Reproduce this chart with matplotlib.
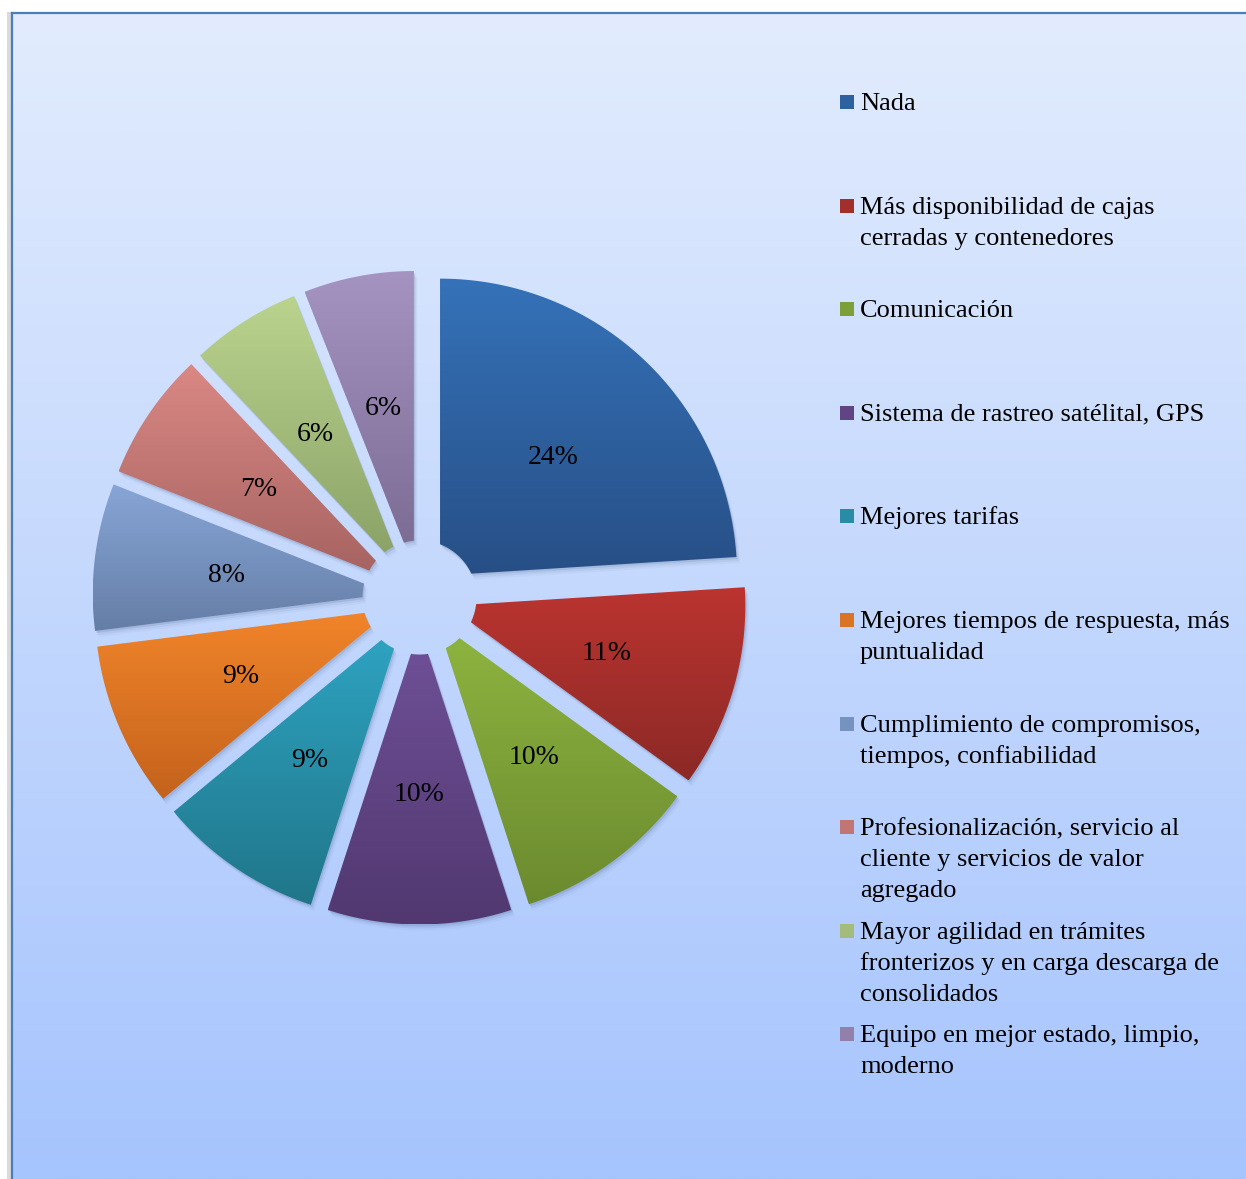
import numpy as np
import matplotlib.pyplot as plt
from matplotlib.patches import Polygon, Rectangle
from matplotlib.colors import to_rgb

categorias = [
    "Nada",
    "Más disponibilidad de cajas\ncerradas y contenedores",
    "Comunicación",
    "Sistema de rastreo satélital, GPS",
    "Mejores tarifas",
    "Mejores tiempos de respuesta, más\npuntualidad",
    "Cumplimiento de compromisos,\ntiempos, confiabilidad",
    "Profesionalización, servicio al\ncliente y servicios de valor\nagregado",
    "Mayor agilidad en trámites\nfronterizos y en carga descarga de\nconsolidados",
    "Equipo en mejor estado, limpio,\nmoderno",
]
porcentajes = [24, 11, 10, 10, 9, 9, 8, 7, 6, 6]

# degradado de cada porción (arriba, abajo)
color_sup = ['#3572B9', '#BB3430', '#8DB33F', '#6E4F96', '#2EA2C0',
             '#F0842A', '#87A5D6', '#DA8884', '#BAD48E', '#A594C1']
color_inf = ['#274F86', '#8C2926', '#6B8A2F', '#513870', '#207689',
             '#C4621C', '#657EA6', '#A76462', '#8CA368', '#7D6C94']

W, H = 1246, 1179
fig = plt.figure(figsize=(W / 100, H / 100), dpi=100)
ax = fig.add_axes([0, 0, 1, 1])


def gradiente(c1, c2, n=256):
    t = np.linspace(0, 1, n)[:, None, None]
    a = np.array(to_rgb(c1))[None, None, :]
    b = np.array(to_rgb(c2))[None, None, :]
    return a + (b - a) * t


# fondo del area del grafico
ax.add_patch(Rectangle((7, 12), 4, H, color='#DADADA', lw=0, zorder=0))
ax.imshow(gradiente('#E2ECFD', '#A6C4FE'), extent=(11, W, H, 12),
          aspect='auto', interpolation='bilinear', zorder=0)
ax.plot([11.5, 11.5], [H, 12.5], color='#4A7EBB', lw=1.6, zorder=1)
ax.plot([11.5, W], [12.5, 12.5], color='#4A7EBB', lw=1.6, zorder=1)

# pastel separado con hueco central
cx, cy = 419.5, 597.5
R = 297
sep = 30
hueco = 57


def porcion(t1, t2, n=200):
    mid = np.radians((t1 + t2) / 2)
    px, py = sep * np.cos(mid), sep * np.sin(mid)
    th = np.radians(np.linspace(t1, t2, n))
    ext = np.c_[px + R * np.cos(th), py + R * np.sin(th)]
    thi = th[::-1]
    d = sep * np.cos(thi - mid)
    r = -d + np.sqrt(d ** 2 - sep ** 2 + hueco ** 2)
    inn = np.c_[px + r * np.cos(thi), py + r * np.sin(thi)]
    pts = np.vstack([ext, inn])
    return np.c_[cx + pts[:, 0], cy - pts[:, 1]], (px, py, mid)


acum = np.concatenate([[0], np.cumsum(porcentajes)])
for i, p in enumerate(porcentajes):
    ini = 90 - 3.6 * acum[i]
    fin = 90 - 3.6 * acum[i + 1]
    pts, (px, py, mid) = porcion(fin, ini)

    # sombra
    for k, a in [(2, 0.10), (4, 0.06), (6, 0.03)]:
        ax.add_patch(Polygon(pts + [k * 0.6, k], closed=True, color='#1A2F55',
                             alpha=a, lw=0, zorder=2))

    poly = Polygon(pts, closed=True, facecolor='none', lw=0, zorder=3)
    ax.add_patch(poly)
    x0, y0 = pts.min(axis=0)
    x1, y1 = pts.max(axis=0)
    im = ax.imshow(gradiente(color_sup[i], color_inf[i]), extent=(x0, x1, y1, y0),
                   aspect='auto', interpolation='bilinear', zorder=3)
    im.set_clip_path(poly)

    lx = cx + px + 0.555 * R * np.cos(mid)
    ly = cy - py - 0.555 * R * np.sin(mid) + 2
    ax.text(lx, ly, f"{p}%", ha='center', va='center', fontsize=20,
            family='Liberation Serif', color='black', zorder=5)

# leyenda
base0 = 110
paso = 103.6
linea = 31
for i, cat in enumerate(categorias):
    yb = base0 + i * paso
    c = 0.5 * (np.array(to_rgb(color_sup[i])) + np.array(to_rgb(color_inf[i])))
    ax.add_patch(Rectangle((840, yb - 15), 14, 14, facecolor=c, lw=0, zorder=4))
    for j, txt in enumerate(cat.split('\n')):
        ax.text(860, yb + j * linea, txt, ha='left', va='baseline', fontsize=19,
                family='Liberation Serif', color='black', zorder=5)

ax.set_xlim(0, W)
ax.set_ylim(H, 0)
ax.axis('off')

fig.savefig('out.png', dpi=100, facecolor='white')
